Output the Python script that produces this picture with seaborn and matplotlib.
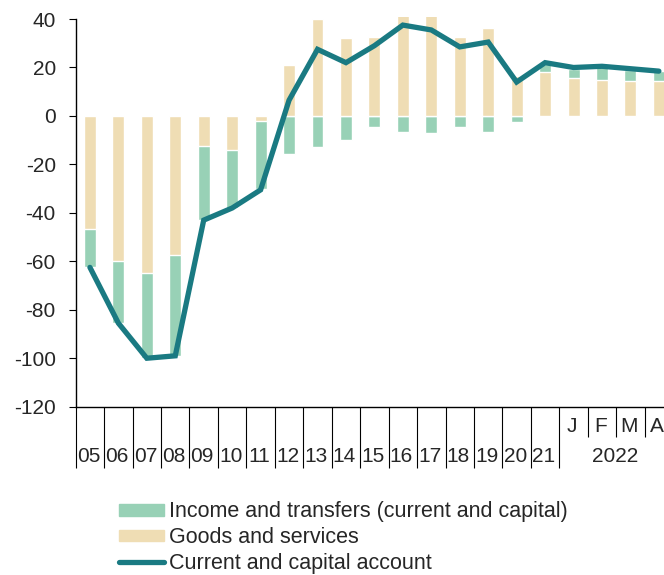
import matplotlib
matplotlib.use("Agg")
import matplotlib.pyplot as plt
from matplotlib.patches import Patch
from matplotlib.lines import Line2D
import numpy as np
import pandas as pd
import seaborn as sns

# Periods: annual 2005-2021, then monthly Jan-Apr 2022
periods = ["05", "06", "07", "08", "09", "10", "11", "12", "13", "14", "15",
           "16", "17", "18", "19", "20", "21", "J", "F", "M", "A"]
goods_services = [-46.5, -60, -65, -57.5, -12.5, -14, -2, 21, 40, 32, 32.5,
                  44, 43, 32.5, 36.5, 16.5, 18, 15.5, 15, 14.5, 14.5]
income_transfers = [-16, -25.5, -35, -41.5, -30.5, -24, -28, -15.5, -13, -10, -4.5,
                    -6.5, -7, -4.5, -6.5, -2.5, 3.5, 4, 5.5, 4.5, 4]
current_capital = [-62.5, -85.5, -100, -99, -43, -38, -30.5, 6.5, 27.5, 22, 29,
                   37.5, 35.5, 28.5, 30.5, 14, 22, 20, 20.5, 19.5, 18.5]
year_label = "2022"
month_count = 4

c_income = "#98D1B6"
c_goods = "#EFDDB4"
c_line = "#1A7A82"

sns.set_style("white")
plt.rcParams["font.family"] = ["Liberation Sans", "DejaVu Sans"]
plt.rcParams["axes.unicode_minus"] = False

goods = np.array(goods_services, dtype=float)
income = np.array(income_transfers, dtype=float)
# Income stacks on top of goods when both share a sign
same_sign = np.sign(goods) == np.sign(income)
income_top = np.where(same_sign, goods + income, income)

df = pd.DataFrame({"period": periods, "goods": goods, "income_top": income_top,
                   "account": current_capital, "pos": np.arange(len(periods))})

fig = plt.figure(figsize=(6.64, 5.75), dpi=100)
ax = fig.add_axes([0.114, 0.2927, 0.886, 0.6784])

sns.barplot(data=df, x="period", y="income_top", color=c_income, width=0.42,
            saturation=1, ax=ax, zorder=2)
sns.barplot(data=df, x="period", y="goods", color=c_goods, width=0.42,
            saturation=1, ax=ax, zorder=3)
sns.lineplot(data=df, x="pos", y="account", color=c_line, lw=3.8, ax=ax,
             zorder=4, solid_capstyle="round", solid_joinstyle="miter")

ax.set_xlim(-0.5, 20.18)
ax.set_ylim(-120, 41)
ax.set_xlabel("")
ax.set_ylabel("")

for s in ["top", "right"]:
    ax.spines[s].set_visible(False)
for s in ["left", "bottom"]:
    ax.spines[s].set_color("black")
    ax.spines[s].set_linewidth(1.0)
ax.spines["left"].set_bounds(-120, 40)

ax.set_yticks(np.arange(-120, 41, 20))
ax.tick_params(axis="y", direction="out", length=5.3, width=0.8, color="black",
               labelsize=15, pad=9, left=True)

# Boundary ticks between periods: long ones for years, short ones for months
n_years = len(periods) - month_count
ax.set_xticks([], minor=False)
ax.set_xticks(np.arange(-0.5, n_years, 1.0), minor=True)
ax.tick_params(axis="x", which="minor", direction="out", length=44, width=0.8,
               color="black", bottom=True)
sec = ax.secondary_xaxis("bottom")
sec.set_xticks(np.arange(n_years + 0.5, len(periods) - 1, 1.0))
sec.set_xticklabels([])
sec.tick_params(direction="out", length=21.5, width=0.8, color="black")
sec.spines["bottom"].set_visible(False)

for i, lab in enumerate(periods):
    dy = -55 if i < n_years else -25
    ax.annotate(lab, xy=(i, 0), xycoords=("data", "axes fraction"),
                xytext=(-1.5, dy), textcoords="offset pixels",
                ha="center", va="baseline", fontsize=15)
ax.annotate(year_label, xy=(n_years + (month_count - 1) / 2, 0),
            xycoords=("data", "axes fraction"), xytext=(-1.5, -55),
            textcoords="offset pixels", ha="center", va="baseline", fontsize=15)

handles = [Patch(color=c_income), Patch(color=c_goods),
           Line2D([], [], color=c_line, lw=3.8, solid_capstyle="round")]
labels = ["Income and transfers (current and capital)", "Goods and services",
          "Current and capital account"]
fig.legend(handles, labels, loc="upper left", bbox_to_anchor=(0.179, 0.128),
           frameon=False, fontsize=15.5, handlelength=2.1, handleheight=0.45,
           handletextpad=0.22, labelspacing=0.22, borderpad=0, borderaxespad=0)

fig.savefig("out.png", dpi=100)
